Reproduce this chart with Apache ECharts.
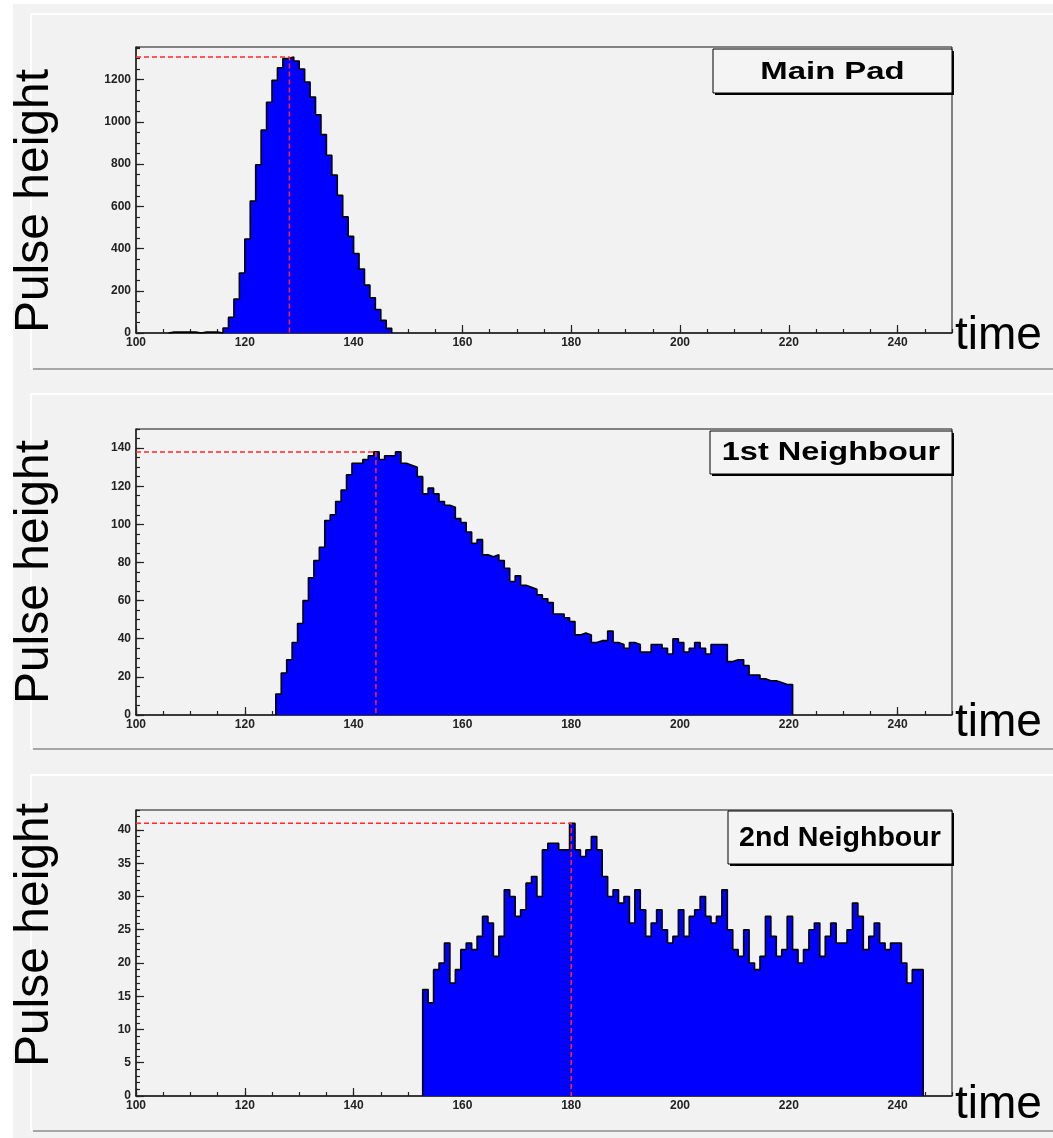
<!DOCTYPE html>
<html>
<head>
<meta charset="utf-8">
<title>Pulse height vs time</title>
<script src="https://cdn.jsdelivr.net/npm/echarts@6/dist/echarts.min.js"></script>
<style>
  html, body { margin: 0; padding: 0; background: #fff; }
  #chart { width: 1053px; height: 1138px; }
</style>
</head>
<body>
<div id="chart"></div>
<script>
// time axis (same for all three pads)
const timeMin = 100;
const timeMax = 250;
const timeMajor = 20;
const timeMinor = 5;

// pad titles
const titles = ['Main Pad', '1st Neighbour', '2nd Neighbour'];

// histogram contents: first bin edge + one value per 1-unit bin
const mainStart = 106;
const mainValues = [4, 4, 4, 4, 4, 0, 4, 4, 4, 0,
  24, 74, 161, 284, 445, 625, 797, 962, 1093, 1197,
  1257, 1300, 1308, 1289, 1251, 1189, 1118, 1034, 940, 842,
  748, 652, 550, 458, 377, 303, 227, 167, 111, 60, 22];

const n1Start = 125.7;
const n1Values = [11, 22, 29, 38, 48, 60, 72, 81, 88, 102,
  105, 112, 118, 126, 132, 132, 134, 136, 138, 134,
  136, 136, 138, 132, 131, 130, 125, 116, 119, 116,
  112, 110, 109, 103, 101, 96, 90, 92, 84, 83,
  84, 81, 77, 70, 73, 68, 67, 66, 63, 61,
  59, 53, 53, 51, 49, 42, 43, 42, 38, 39,
  39, 44, 38, 37, 35, 38, 37, 33, 33, 37,
  37, 35, 32, 40, 38, 33, 35, 38, 35, 32,
  37, 37, 37, 28, 29, 29, 26, 21, 21, 19,
  18, 18, 17, 16, 16];

const n2Start = 152.7;
const n2Values = [16, 14, 19, 20, 23, 17, 19, 22, 23, 22,
  24, 27, 26, 21, 24, 31, 30, 27, 28, 32,
  33, 30, 37, 38, 38, 37, 37, 41, 37, 36,
  37, 39, 37, 33, 30, 31, 29, 30, 26, 31,
  28, 24, 26, 28, 25, 23, 24, 28, 24, 27,
  28, 30, 27, 26, 27, 31, 25, 22, 21, 25,
  20, 19, 21, 27, 24, 21, 22, 27, 22, 20,
  22, 25, 26, 21, 24, 26, 23, 23, 25, 29,
  27, 22, 24, 26, 23, 22, 23, 23, 20, 17,
  19, 19];

// where the red marker crosses the time axis
const peakTimes = [128.2, 144.1, 180.0];

// y axes
const yMax = [1355, 150, 43];
const yMajor = [200, 20, 5];
const yMinor = [50, 5, 1];

const starts = [mainStart, n1Start, n2Start];
const hists = [mainValues, n1Values, n2Values];

// layout
const gridTops = [47, 429, 810];
const gridHeight = 286;
const gridLeft = 136;
const gridWidth = 816;
const pads = [[13, 369], [393, 749], [774, 1131]];
const boxes = [
  { x: 713, y: 49, w: 239, h: 44, size: 24, sx: 1.37 },
  { x: 710, y: 431, w: 242, h: 43, size: 25, sx: 1.3 },
  { x: 728, y: 811, w: 224, h: 53, size: 27, sx: 1.06 }
];
const FONT = '"Liberation Sans", Arial, Helvetica, sans-serif';

function stepPoints(start, values) {
  const pts = [[start, 0]];
  values.forEach((v, i) => pts.push([start + i, v]));
  pts.push([start + values.length, 0]);
  return pts;
}

const grid = [], xAxis = [], yAxis = [], series = [], graphic = [];

graphic.push({
  type: 'rect', z: -10, silent: true,
  shape: { x: 13, y: 4, width: 1040, height: 1134 },
  style: { fill: '#f2f2f2' }
});

for (let g = 0; g < 3; g++) {
  const [pt, pb] = pads[g];
  graphic.push({
    type: 'rect', z: -9, silent: true,
    shape: { x: 30, y: pt, width: 1023, height: pb - pt },
    style: { fill: '#f2f2f2' }
  });
  graphic.push({
    type: 'polyline', z: -8, silent: true,
    shape: { points: [[31, pb], [31, pt + 1], [1053, pt + 1]] },
    style: { stroke: '#ffffff', lineWidth: 2, fill: null }
  });
  graphic.push({
    type: 'line', z: -8, silent: true,
    shape: { x1: 33, y1: pb, x2: 1053, y2: pb },
    style: { stroke: '#a6a6a6', lineWidth: 2 }
  });

  grid.push({
    left: gridLeft, top: gridTops[g], width: gridWidth, height: gridHeight,
    show: true, borderColor: '#111', borderWidth: 1, backgroundColor: 'transparent'
  });

  const tickStyle = { color: '#222', width: 1.2 };
  xAxis.push({
    type: 'value', gridIndex: g, position: 'bottom',
    min: timeMin, max: timeMax, interval: timeMajor,
    axisLine: { show: true, onZero: false, lineStyle: { color: '#222', width: 1.5 } },
    axisTick: { inside: true, length: 8, lineStyle: tickStyle },
    axisLabel: {
      margin: 4, showMaxLabel: false, color: '#222',
      fontFamily: FONT, fontWeight: 'bold', fontSize: 12,
      formatter: v => String(v)
    },
    splitLine: { show: false }
  });
  xAxis.push({
    type: 'value', gridIndex: g, position: 'bottom',
    min: timeMin, max: timeMax, interval: timeMinor,
    axisLine: { show: false },
    axisTick: { inside: true, length: 4, lineStyle: tickStyle },
    axisLabel: { show: false },
    splitLine: { show: false }
  });
  yAxis.push({
    type: 'value', gridIndex: g, position: 'left',
    min: 0, max: yMax[g], interval: yMajor[g],
    axisLine: { show: true, onZero: false, lineStyle: { color: '#222', width: 1.5 } },
    axisTick: { inside: true, length: 8, lineStyle: tickStyle },
    axisLabel: {
      margin: 5, showMaxLabel: false, color: '#222',
      fontFamily: FONT, fontWeight: 'bold', fontSize: 12,
      formatter: v => String(v)
    },
    splitLine: { show: false }
  });
  yAxis.push({
    type: 'value', gridIndex: g, position: 'left',
    min: 0, max: yMax[g], interval: yMinor[g],
    axisLine: { show: false },
    axisTick: { inside: true, length: 4, lineStyle: tickStyle },
    axisLabel: { show: false },
    splitLine: { show: false }
  });

  const vals = hists[g];
  const peak = Math.max(...vals);
  series.push({
    type: 'line', xAxisIndex: 2 * g, yAxisIndex: 2 * g,
    step: 'end', symbol: 'none', z: 3,
    data: stepPoints(starts[g], vals),
    lineStyle: { color: '#000', width: 1.6 },
    areaStyle: { color: '#0000ff', opacity: 1 }
  });
  series.push({
    type: 'line', xAxisIndex: 2 * g, yAxisIndex: 2 * g,
    symbol: 'none', z: 4,
    data: [[timeMin, peak], [peakTimes[g], peak], [peakTimes[g], 0]],
    lineStyle: { color: '#ff2a2a', width: 1.5, type: [5, 3] }
  });

  // pad title box
  const b = boxes[g];
  graphic.push({
    type: 'rect', z: 50, silent: true,
    shape: { x: b.x + 2, y: b.y + 2, width: b.w, height: b.h },
    style: { fill: '#000' }
  });
  graphic.push({
    type: 'rect', z: 51, silent: true,
    shape: { x: b.x, y: b.y, width: b.w, height: b.h },
    style: { fill: '#f4f4f4', stroke: '#000', lineWidth: 1 }
  });
  graphic.push({
    type: 'text', z: 52, silent: true,
    x: b.x + b.w / 2, y: b.y + b.h / 2 + 1, scaleX: b.sx,
    style: {
      text: titles[g], fill: '#000', align: 'center', verticalAlign: 'middle',
      font: 'bold ' + b.size + 'px ' + FONT
    }
  });

  // big axis titles
  graphic.push({
    type: 'text', z: 52, silent: true,
    x: 35, y: gridTops[g] + gridHeight / 2 + [11, 0, -18][g], rotation: Math.PI / 2,
    style: {
      text: 'Pulse height', fill: '#000', align: 'center', verticalAlign: 'middle',
      font: '48px ' + FONT
    }
  });
  graphic.push({
    type: 'text', z: 52, silent: true,
    x: 955, y: [336, 723, 1105][g],
    style: {
      text: 'time', fill: '#000', align: 'left', verticalAlign: 'middle',
      font: '46px ' + FONT
    }
  });
}

const chart = echarts.init(document.getElementById('chart'), null, { renderer: 'canvas' });
chart.setOption({
  backgroundColor: '#ffffff',
  animation: false,
  grid: grid,
  xAxis: xAxis,
  yAxis: yAxis,
  series: series,
  graphic: graphic
});
</script>
</body>
</html>
